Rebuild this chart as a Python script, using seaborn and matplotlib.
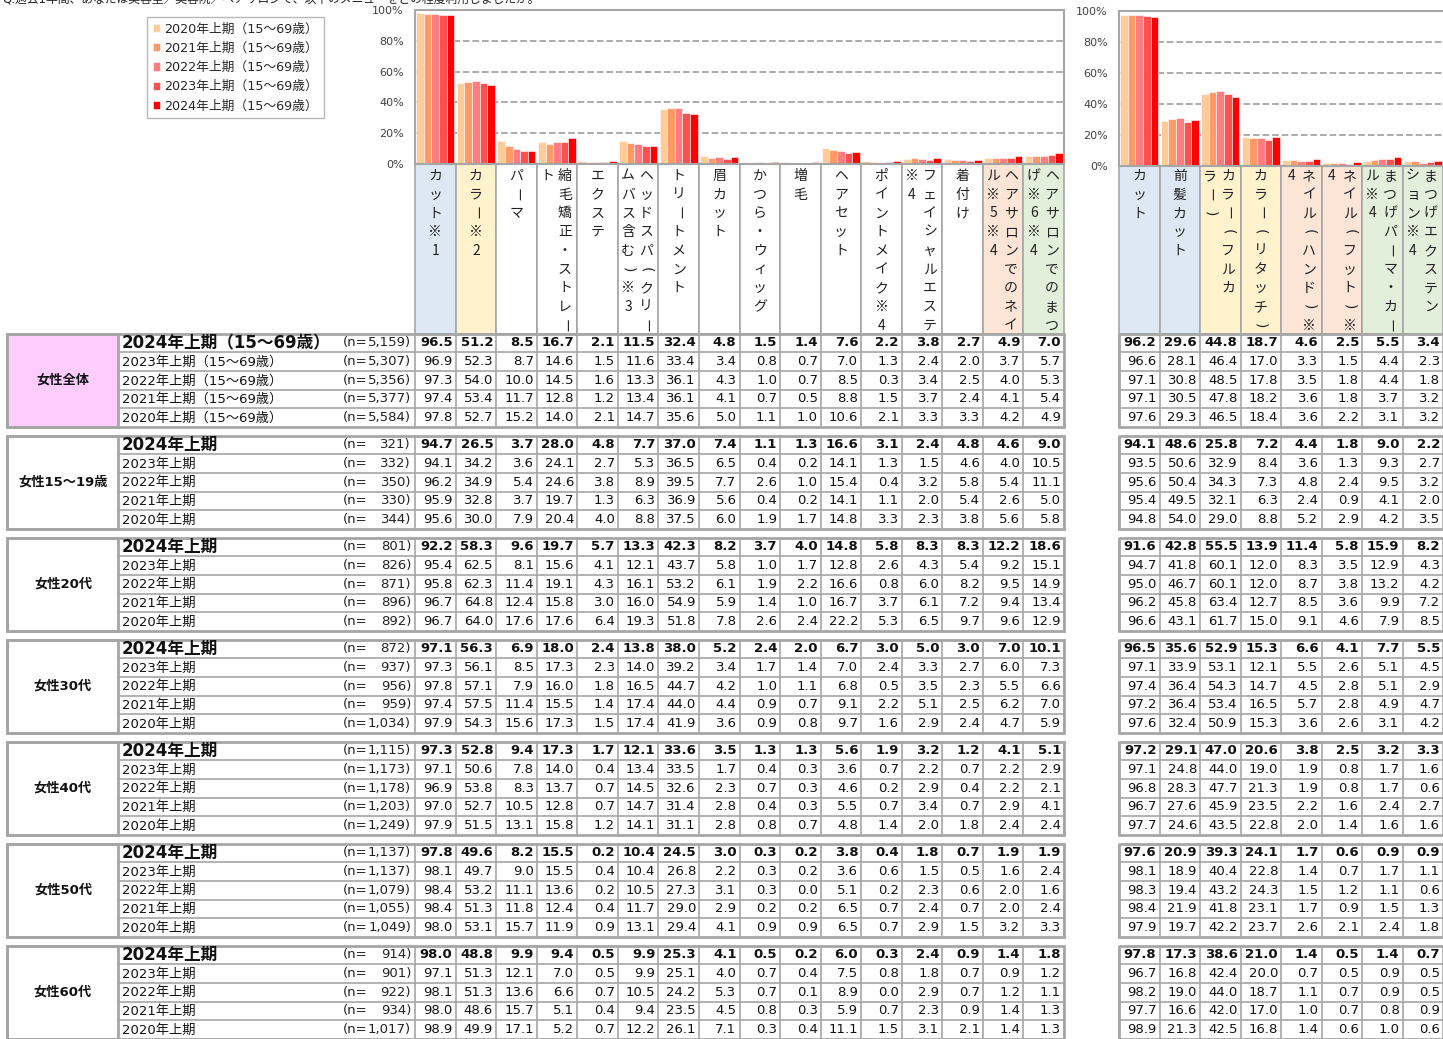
import numpy as np
import pandas as pd
import matplotlib
matplotlib.use("Agg")
import matplotlib.pyplot as plt
import seaborn as sns
from matplotlib.patches import Rectangle

sns.set_style("white")
plt.rcParams["font.family"] = ["DejaVu Sans", "Noto Sans CJK JP"]

W, H = 1443, 1039
GREY = "#a6a6a6"

# ---- data ----------------------------------------------------------------
years = ["2024年上期", "2023年上期", "2022年上期", "2021年上期", "2020年上期"]
groups = ["女性全体", "女性15〜19歳", "女性20代", "女性30代", "女性40代", "女性50代", "女性60代"]

# vertical item labels, split into columns (right column first)
left_labels = [
    ["カット※1"], ["カラー※2"], ["パーマ"], ["縮毛矯正・ストレー", "ト"], ["エクステ"],
    ["ヘッドスパ（クリー", "ムバス含む）※3"], ["トリートメント"], ["眉カット"],
    ["かつら・ウィッグ"], ["増毛"], ["ヘアセット"], ["ポイントメイク※4"],
    ["フェイシャルエステ", "※4"], ["着付け"], ["ヘアサロンでのネイ", "ル※5※4"],
    ["ヘアサロンでのまつ", "げ※6※4"],
]
right_labels = [
    ["カット"], ["前髪カット"], ["カラー（フルカ", "ラー）"], ["カラー（リタッチ）"],
    ["ネイル（ハンド）※", "4"], ["ネイル（フット）※", "4"],
    ["まつげパーマ・カー", "ル※4"], ["まつげエクステン", "ション※4"],
]
left_fill = ["#dde8f4", "#fff2cc"] + ["white"] * 12 + ["#fce4d6", "#e2efda"]
right_fill = ["#dde8f4", "#dde8f4", "#fff2cc", "#fff2cc",
              "#fce4d6", "#fce4d6", "#e2efda", "#e2efda"]

# sample sizes (2024 -> 2020)
n_zentai = [5159, 5307, 5356, 5377, 5584]
n_15_19 = [321, 332, 350, 330, 344]
n_20s = [801, 826, 871, 896, 892]
n_30s = [872, 937, 956, 959, 1034]
n_40s = [1115, 1173, 1178, 1203, 1249]
n_50s = [1137, 1137, 1079, 1055, 1049]
n_60s = [914, 901, 922, 934, 1017]

# rows 2024 -> 2020 ; 16 left items + 8 right items
zentai = [
    [96.5, 51.2, 8.5, 16.7, 2.1, 11.5, 32.4, 4.8, 1.5, 1.4, 7.6, 2.2, 3.8, 2.7, 4.9, 7.0, 96.2, 29.6, 44.8, 18.7, 4.6, 2.5, 5.5, 3.4],
    [96.9, 52.3, 8.7, 14.6, 1.5, 11.6, 33.4, 3.4, 0.8, 0.7, 7.0, 1.3, 2.4, 2.0, 3.7, 5.7, 96.6, 28.1, 46.4, 17.0, 3.3, 1.5, 4.4, 2.3],
    [97.3, 54.0, 10.0, 14.5, 1.6, 13.3, 36.1, 4.3, 1.0, 0.7, 8.5, 0.3, 3.4, 2.5, 4.0, 5.3, 97.1, 30.8, 48.5, 17.8, 3.5, 1.8, 4.4, 1.8],
    [97.4, 53.4, 11.7, 12.8, 1.2, 13.4, 36.1, 4.1, 0.7, 0.5, 8.8, 1.5, 3.7, 2.4, 4.1, 5.4, 97.1, 30.5, 47.8, 18.2, 3.6, 1.8, 3.7, 3.2],
    [97.8, 52.7, 15.2, 14.0, 2.1, 14.7, 35.6, 5.0, 1.1, 1.0, 10.6, 2.1, 3.3, 3.3, 4.2, 4.9, 97.6, 29.3, 46.5, 18.4, 3.6, 2.2, 3.1, 3.2],
]
age_15_19 = [
    [94.7, 26.5, 3.7, 28.0, 4.8, 7.7, 37.0, 7.4, 1.1, 1.3, 16.6, 3.1, 2.4, 4.8, 4.6, 9.0, 94.1, 48.6, 25.8, 7.2, 4.4, 1.8, 9.0, 2.2],
    [94.1, 34.2, 3.6, 24.1, 2.7, 5.3, 36.5, 6.5, 0.4, 0.2, 14.1, 1.3, 1.5, 4.6, 4.0, 10.5, 93.5, 50.6, 32.9, 8.4, 3.6, 1.3, 9.3, 2.7],
    [96.2, 34.9, 5.4, 24.6, 3.8, 8.9, 39.5, 7.7, 2.6, 1.0, 15.4, 0.4, 3.2, 5.8, 5.4, 11.1, 95.6, 50.4, 34.3, 7.3, 4.8, 2.4, 9.5, 3.2],
    [95.9, 32.8, 3.7, 19.7, 1.3, 6.3, 36.9, 5.6, 0.4, 0.2, 14.1, 1.1, 2.0, 5.4, 2.6, 5.0, 95.4, 49.5, 32.1, 6.3, 2.4, 0.9, 4.1, 2.0],
    [95.6, 30.0, 7.9, 20.4, 4.0, 8.8, 37.5, 6.0, 1.9, 1.7, 14.8, 3.3, 2.3, 3.8, 5.6, 5.8, 94.8, 54.0, 29.0, 8.8, 5.2, 2.9, 4.2, 3.5],
]
age_20s = [
    [92.2, 58.3, 9.6, 19.7, 5.7, 13.3, 42.3, 8.2, 3.7, 4.0, 14.8, 5.8, 8.3, 8.3, 12.2, 18.6, 91.6, 42.8, 55.5, 13.9, 11.4, 5.8, 15.9, 8.2],
    [95.4, 62.5, 8.1, 15.6, 4.1, 12.1, 43.7, 5.8, 1.0, 1.7, 12.8, 2.6, 4.3, 5.4, 9.2, 15.1, 94.7, 41.8, 60.1, 12.0, 8.3, 3.5, 12.9, 4.3],
    [95.8, 62.3, 11.4, 19.1, 4.3, 16.1, 53.2, 6.1, 1.9, 2.2, 16.6, 0.8, 6.0, 8.2, 9.5, 14.9, 95.0, 46.7, 60.1, 12.0, 8.7, 3.8, 13.2, 4.2],
    [96.7, 64.8, 12.4, 15.8, 3.0, 16.0, 54.9, 5.9, 1.4, 1.0, 16.7, 3.7, 6.1, 7.2, 9.4, 13.4, 96.2, 45.8, 63.4, 12.7, 8.5, 3.6, 9.9, 7.2],
    [96.7, 64.0, 17.6, 17.6, 6.4, 19.3, 51.8, 7.8, 2.6, 2.4, 22.2, 5.3, 6.5, 9.7, 9.6, 12.9, 96.6, 43.1, 61.7, 15.0, 9.1, 4.6, 7.9, 8.5],
]
age_30s = [
    [97.1, 56.3, 6.9, 18.0, 2.4, 13.8, 38.0, 5.2, 2.4, 2.0, 6.7, 3.0, 5.0, 3.0, 7.0, 10.1, 96.5, 35.6, 52.9, 15.3, 6.6, 4.1, 7.7, 5.5],
    [97.3, 56.1, 8.5, 17.3, 2.3, 14.0, 39.2, 3.4, 1.7, 1.4, 7.0, 2.4, 3.3, 2.7, 6.0, 7.3, 97.1, 33.9, 53.1, 12.1, 5.5, 2.6, 5.1, 4.5],
    [97.8, 57.1, 7.9, 16.0, 1.8, 16.5, 44.7, 4.2, 1.0, 1.1, 6.8, 0.5, 3.5, 2.3, 5.5, 6.6, 97.4, 36.4, 54.3, 14.7, 4.5, 2.8, 5.1, 2.9],
    [97.4, 57.5, 11.4, 15.5, 1.4, 17.4, 44.0, 4.4, 0.9, 0.7, 9.1, 2.2, 5.1, 2.5, 6.2, 7.0, 97.2, 36.4, 53.4, 16.5, 5.7, 2.8, 4.9, 4.7],
    [97.9, 54.3, 15.6, 17.3, 1.5, 17.4, 41.9, 3.6, 0.9, 0.8, 9.7, 1.6, 2.9, 2.4, 4.7, 5.9, 97.6, 32.4, 50.9, 15.3, 3.6, 2.6, 3.1, 4.2],
]
age_40s = [
    [97.3, 52.8, 9.4, 17.3, 1.7, 12.1, 33.6, 3.5, 1.3, 1.3, 5.6, 1.9, 3.2, 1.2, 4.1, 5.1, 97.2, 29.1, 47.0, 20.6, 3.8, 2.5, 3.2, 3.3],
    [97.1, 50.6, 7.8, 14.0, 0.4, 13.4, 33.5, 1.7, 0.4, 0.3, 3.6, 0.7, 2.2, 0.7, 2.2, 2.9, 97.1, 24.8, 44.0, 19.0, 1.9, 0.8, 1.7, 1.6],
    [96.9, 53.8, 8.3, 13.7, 0.7, 14.5, 32.6, 2.3, 0.7, 0.3, 4.6, 0.2, 2.9, 0.4, 2.2, 2.1, 96.8, 28.3, 47.7, 21.3, 1.9, 0.8, 1.7, 0.6],
    [97.0, 52.7, 10.5, 12.8, 0.7, 14.7, 31.4, 2.8, 0.4, 0.3, 5.5, 0.7, 3.4, 0.7, 2.9, 4.1, 96.7, 27.6, 45.9, 23.5, 2.2, 1.6, 2.4, 2.7],
    [97.9, 51.5, 13.1, 15.8, 1.2, 14.1, 31.1, 2.8, 0.8, 0.7, 4.8, 1.4, 2.0, 1.8, 2.4, 2.4, 97.7, 24.6, 43.5, 22.8, 2.0, 1.4, 1.6, 1.6],
]
age_50s = [
    [97.8, 49.6, 8.2, 15.5, 0.2, 10.4, 24.5, 3.0, 0.3, 0.2, 3.8, 0.4, 1.8, 0.7, 1.9, 1.9, 97.6, 20.9, 39.3, 24.1, 1.7, 0.6, 0.9, 0.9],
    [98.1, 49.7, 9.0, 15.5, 0.4, 10.4, 26.8, 2.2, 0.3, 0.2, 3.6, 0.6, 1.5, 0.5, 1.6, 2.4, 98.1, 18.9, 40.4, 22.8, 1.4, 0.7, 1.7, 1.1],
    [98.4, 53.2, 11.1, 13.6, 0.2, 10.5, 27.3, 3.1, 0.3, 0.0, 5.1, 0.2, 2.3, 0.6, 2.0, 1.6, 98.3, 19.4, 43.2, 24.3, 1.5, 1.2, 1.1, 0.6],
    [98.4, 51.3, 11.8, 12.4, 0.4, 11.7, 29.0, 2.9, 0.2, 0.2, 6.5, 0.7, 2.4, 0.7, 2.0, 2.4, 98.4, 21.9, 41.8, 23.1, 1.7, 0.9, 1.5, 1.3],
    [98.0, 53.1, 15.7, 11.9, 0.9, 13.1, 29.4, 4.1, 0.9, 0.9, 6.5, 0.7, 2.9, 1.5, 3.2, 3.3, 97.9, 19.7, 42.2, 23.7, 2.6, 2.1, 2.4, 1.8],
]
age_60s = [
    [98.0, 48.8, 9.9, 9.4, 0.5, 9.9, 25.3, 4.1, 0.5, 0.2, 6.0, 0.3, 2.4, 0.9, 1.4, 1.8, 97.8, 17.3, 38.6, 21.0, 1.4, 0.5, 1.4, 0.7],
    [97.1, 51.3, 12.1, 7.0, 0.5, 9.9, 25.1, 4.0, 0.7, 0.4, 7.5, 0.8, 1.8, 0.7, 0.9, 1.2, 96.7, 16.8, 42.4, 20.0, 0.7, 0.5, 0.9, 0.5],
    [98.1, 51.3, 13.6, 6.6, 0.7, 10.5, 24.2, 5.3, 0.7, 0.1, 8.9, 0.0, 2.9, 0.7, 1.2, 1.1, 98.2, 19.0, 44.0, 18.7, 1.1, 0.7, 0.9, 0.5],
    [98.0, 48.6, 15.7, 5.1, 0.4, 9.4, 23.5, 4.5, 0.8, 0.3, 5.9, 0.7, 2.3, 0.9, 1.4, 1.3, 97.7, 16.6, 42.0, 17.0, 1.0, 0.7, 0.8, 0.9],
    [98.9, 49.9, 17.1, 5.2, 0.7, 12.2, 26.1, 7.1, 0.3, 0.4, 11.1, 1.5, 3.1, 2.1, 1.4, 1.3, 98.9, 21.3, 42.5, 16.8, 1.4, 0.6, 1.0, 0.6],
]

tables = [zentai, age_15_19, age_20s, age_30s, age_40s, age_50s, age_60s]
n_sizes = [n_zentai, n_15_19, n_20s, n_30s, n_40s, n_50s, n_60s]

hue_labels = [f"{y}（15〜69歳）" for y in years[::-1]]   # 2020 -> 2024
palette = dict(zip(hue_labels, ["#ffcc99", "#ff9966", "#ff7c80", "#ff5050", "#ff0000"]))

left_names = ["".join(c) for c in left_labels]
right_names = ["".join(c) for c in right_labels]

# ---- layout (pixels) -----------------------------------------------------
fig = plt.figure(figsize=(W / 100, H / 100), dpi=100)
ax_t = fig.add_axes([0, 0, 1, 1])
ax_t.set_xlim(0, W)
ax_t.set_ylim(H, 0)
ax_t.axis("off")


def fig_box(x0, y0, x1, y1):
    return [x0 / W, 1 - y1 / H, (x1 - x0) / W, (y1 - y0) / H]


LX0, LX1, RX0, RX1 = 415, 1064, 1119, 1443
lcol = (LX1 - LX0) / 16
rcol = (RX1 - RX0) / 8
xl = [LX0 + i * lcol for i in range(17)]
xr = [RX0 + i * rcol for i in range(9)]

ax_l = fig.add_axes(fig_box(LX0, 10, LX1, 164))
ax_r = fig.add_axes(fig_box(RX0, 11, RX1, 166))


def long_df(names, start):
    recs = []
    for lab, row in zip(hue_labels, zentai[::-1]):
        for nm, v in zip(names, row[start:start + len(names)]):
            recs.append({"item": nm, "year": lab, "value": v})
    return pd.DataFrame(recs)


for ax, names, start in [(ax_l, left_names, 0), (ax_r, right_names, 16)]:
    sns.barplot(data=long_df(names, start), x="item", y="value", hue="year",
                order=names, hue_order=hue_labels, palette=palette, saturation=1,
                width=0.94, edgecolor="white", linewidth=0.4, ax=ax)
    ax.set_xlim(-0.5, len(names) - 0.5)
    ax.set_ylim(0, 100)
    ax.set_yticks(range(0, 101, 20))
    ax.set_yticklabels([f"{t}%" for t in range(0, 101, 20)], fontsize=8, color="#404040")
    ax.set_xticks([])
    ax.set_xlabel("")
    ax.set_ylabel("")
    ax.yaxis.grid(True, ls="--", color="#a6a6a6", lw=1.3)
    ax.set_axisbelow(True)
    ax.tick_params(axis="y", length=0, pad=8)
    for s in ax.spines.values():
        s.set_color(GREY)
        s.set_linewidth(1.5)

ax_r.spines["right"].set_visible(False)
handles, labels = ax_l.get_legend_handles_labels()
ax_l.legend_.remove()
ax_r.legend_.remove()
fig.legend(handles, labels, loc="upper left", bbox_to_anchor=(147 / W, 1 - 17 / H),
           borderaxespad=0, frameon=True, fancybox=False, edgecolor=GREY, fontsize=9.2,
           handlelength=0.6, handleheight=0.6, handletextpad=0.3,
           labelspacing=0.48, borderpad=0.45)

# question text (cut at the top edge, as in the source)
ax_t.text(2, -1, "Q.過去1年間、あなたは美容室／美容院／ヘアサロンで、以下のメニューをどの程度利用しましたか。",
          fontsize=8.5, va="center", ha="left", color="#222222")

# ---- vertical item labels ------------------------------------------------
# characters turned sideways in vertical writing
ROT = {"ー": "ー", "（": "(", "）": ")"}


def header(xs, y0, labels_, fills):
    for i, (cols, fc) in enumerate(zip(labels_, fills)):
        ax_t.add_patch(Rectangle((xs[i], y0), xs[i + 1] - xs[i], 333.5 - y0,
                                 fc=fc, ec=GREY, lw=1.2))
        cx = (xs[i] + xs[i + 1]) / 2
        offs = [0] if len(cols) == 1 else [8, -10]
        for col, off in zip(cols, offs):
            for k, ch in enumerate(col):
                y = 176 + k * 18.7
                if ch in ROT:
                    fam = ["Noto Sans CJK JP"] if ch == "ー" else ["DejaVu Sans"]
                    ax_t.text(cx + off, y, ROT[ch], fontsize=10, family=fam,
                              ha="center", va="center", rotation=-90, color="#222222")
                else:
                    ax_t.text(cx + off, y, ch, fontsize=10, family=["Noto Sans CJK JP"],
                              ha="center", va="center", color="#222222")


header(xl, 164, left_labels, left_fill)
header(xr, 166, right_labels, right_fill)

# ---- table ---------------------------------------------------------------
G0, GP, RH = 333.5, 102, 18.7
for g, (gname, rows, ns) in enumerate(zip(groups, tables, n_sizes)):
    top = G0 + g * GP
    bot = top + 5 * RH
    ax_t.add_patch(Rectangle((7, top), 118 - 7, 5 * RH,
                             fc="#ffccff" if g == 0 else "white", ec=GREY, lw=2))
    ax_t.text(63, top + 2.5 * RH, gname, ha="center", va="center",
              fontsize=9.5, fontweight="bold", color="#111111")
    for r in range(1, 5):
        y = top + r * RH
        ax_t.plot([118, LX1], [y, y], color=GREY, lw=1.2)
        ax_t.plot([RX0, RX1], [y, y], color=GREY, lw=1.2)
    for x in xl + xr:
        ax_t.plot([x, x], [top, bot], color=GREY, lw=1.2)
    ax_t.add_patch(Rectangle((7, top), LX1 - 7, 5 * RH, fill=False, ec=GREY, lw=2))
    ax_t.add_patch(Rectangle((RX0, top), RX1 - RX0 + 5, 5 * RH, fill=False, ec=GREY, lw=2))

    for r, (yr, row, n) in enumerate(zip(years, rows, ns)):
        yc = top + (r + 0.5) * RH
        lab = f"{yr}（15〜69歳）" if g == 0 else yr
        first = r == 0
        ax_t.text(122, yc + 0.5, lab, ha="left", va="center",
                  fontsize=12 if first else 9.5,
                  fontweight="bold" if first else "normal", color="#111111")
        ax_t.text(343, yc, "(n=", ha="left", va="center", fontsize=9.5, color="#222222")
        ax_t.text(411, yc, f"{n:,})", ha="right", va="center", fontsize=9.5, color="#222222")
        for i, v in enumerate(row):
            xe = xl[i + 1] if i < 16 else xr[i - 16 + 1]
            ax_t.text(xe - 3, yc, f"{v:.1f}", ha="right", va="center", fontsize=9.5,
                      fontweight="bold" if first else "normal", color="#111111")

fig.savefig("out.png", dpi=100)
